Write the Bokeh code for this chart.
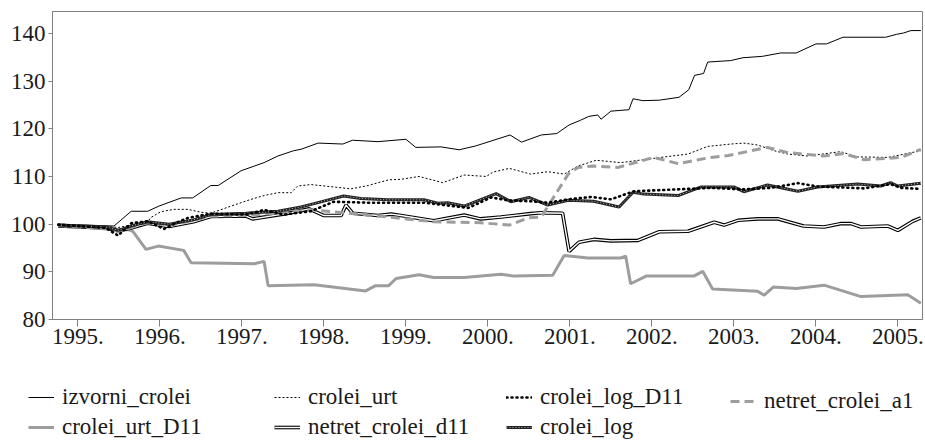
from bokeh.plotting import figure
from bokeh.models import Range1d, FixedTicker, Legend, LegendItem
from bokeh.embed import file_html
from bokeh.resources import INLINE

# ---------------- data (decimal years, index values) ----------------
izvorni_x = [1994.76, 1995.44, 1995.65, 1995.85, 1995.99, 1996.26, 1996.40, 1996.62, 1996.71, 1996.99,
             1997.27, 1997.44, 1997.63, 1997.72, 1997.93, 1998.23, 1998.35, 1998.66, 1999.00, 1999.12,
             1999.43, 1999.65, 1999.85, 2000.27, 2000.41, 2000.65, 2000.84, 2000.99, 2001.13, 2001.23,
             2001.34, 2001.38, 2001.50, 2001.72, 2001.77, 2001.89, 2002.09, 2002.33, 2002.45, 2002.52,
             2002.63, 2002.68, 2002.96, 2003.11, 2003.35, 2003.57, 2003.76, 2004.00, 2004.13, 2004.33,
             2004.85, 2004.98, 2005.07, 2005.16, 2005.28]
izvorni_y = [100.0, 99.6, 102.7, 102.7, 103.8, 105.5, 105.5, 108.1, 108.1, 111.2,
             112.9, 114.3, 115.4, 115.7, 117.0, 116.8, 117.6, 117.3, 117.8, 116.1,
             116.2, 115.6, 116.4, 118.7, 117.2, 118.7, 119.0, 120.8, 121.8, 122.6,
             122.9, 122.0, 123.7, 124.0, 126.3, 125.9, 126.0, 126.6, 128.2, 131.2,
             131.6, 134.0, 134.3, 134.9, 135.2, 135.9, 135.9, 137.8, 137.8, 139.2,
             139.2, 139.8, 140.1, 140.6, 140.6]

urt_x = [1994.76, 1995.34, 1995.49, 1995.65, 1995.85, 1995.89, 1996.01, 1996.17, 1996.34, 1996.50,
         1996.62, 1996.87, 1997.11, 1997.27, 1997.44, 1997.60, 1997.68, 1997.84, 1998.12, 1998.33,
         1998.54, 1998.79, 1998.94, 1999.16, 1999.45, 1999.71, 1999.98, 2000.06, 2000.26, 2000.52,
         2000.73, 2000.93, 2001.10, 2001.32, 2001.62, 2002.11, 2002.44, 2002.68, 2002.96, 2003.12,
         2003.29, 2003.49, 2003.66, 2003.90, 2004.30, 2004.51, 2004.88, 2005.28]
urt_y = [99.9, 99.5, 99.3, 99.8, 100.5, 101.4, 102.6, 103.1, 103.1, 102.5,
         102.3, 103.8, 105.2, 106.0, 106.6, 106.6, 108.0, 108.3, 107.8, 107.4,
         108.1, 109.3, 109.4, 110.0, 108.7, 110.3, 110.0, 110.9, 111.7, 110.5,
         111.0, 110.5, 112.2, 113.4, 112.9, 114.0, 114.7, 116.3, 116.8, 117.0,
         116.6, 115.4, 114.7, 114.3, 115.2, 114.1, 114.0, 115.4]

logd11_x = [1994.76, 1995.34, 1995.49, 1995.65, 1995.85, 1996.05, 1996.20, 1996.34, 1996.62, 1997.05,
            1997.27, 1997.51, 1997.84, 1998.12, 1998.54, 1999.22, 1999.76, 2000.04, 2000.24, 2000.52,
            2000.73, 2000.98, 2001.26, 2001.50, 2001.78, 2002.32, 2002.72, 2003.12, 2003.45, 2003.78,
            2004.02, 2004.59, 2004.91, 2005.04, 2005.28]
logd11_y = [99.9, 99.2, 97.6, 100.2, 100.6, 99.0, 100.3, 101.3, 102.2, 102.0,
            103.0, 102.0, 102.7, 104.7, 104.5, 104.5, 103.4, 105.6, 105.0, 104.8,
            104.5, 105.2, 105.7, 105.2, 106.9, 107.3, 107.6, 107.3, 107.6, 108.6,
            107.9, 107.5, 108.4, 107.6, 107.4]

a1_x = [1994.76, 1995.34, 1995.49, 1995.65, 1995.85, 1996.11, 1996.41, 1996.62, 1997.05, 1997.44,
        1997.84, 1998.12, 1998.24, 1998.66, 1999.34, 1999.91, 2000.26, 2000.49, 2000.65, 2000.80,
        2000.98, 2001.10, 2001.29, 2001.59, 2002.02, 2002.32, 2002.72, 2002.93, 2003.41, 2003.66,
        2004.10, 2004.34, 2004.59, 2005.04, 2005.28]
a1_y = [99.7, 99.0, 98.5, 99.3, 100.3, 99.7, 100.8, 101.7, 101.8, 102.3,
        103.0, 102.6, 102.4, 101.7, 100.5, 100.3, 99.8, 101.3, 101.5, 105.6,
        110.5, 111.9, 112.2, 111.9, 114.0, 112.7, 114.0, 114.4, 116.1, 115.0,
        114.3, 114.8, 113.5, 114.0, 115.7]

urtd11_x = [1994.76, 1995.34, 1995.49, 1995.61, 1995.67, 1995.83, 1995.98, 1996.29, 1996.38, 1997.15,
            1997.27, 1997.32, 1997.88, 1998.51, 1998.63, 1998.79, 1998.88, 1999.16, 1999.34, 1999.71,
            2000.16, 2000.32, 2000.79, 2000.93, 2001.22, 2001.62, 2001.68, 2001.74, 2001.93, 2002.51,
            2002.62, 2002.74, 2003.29, 2003.37, 2003.48, 2003.76, 2004.10, 2004.55, 2005.12, 2005.28]
urtd11_y = [99.8, 99.3, 98.7, 98.9, 98.5, 94.7, 95.4, 94.5, 91.9, 91.7,
            92.2, 87.1, 87.3, 86.0, 87.1, 87.1, 88.6, 89.4, 88.8, 88.8,
            89.5, 89.1, 89.3, 93.4, 92.9, 92.9, 93.3, 87.5, 89.1, 89.1,
            90.1, 86.4, 85.9, 85.1, 86.8, 86.5, 87.2, 84.8, 85.2, 83.4]

d11_x = [1994.76, 1995.34, 1995.49, 1995.65, 1995.85, 1996.11, 1996.41, 1996.62, 1997.05, 1997.13,
         1997.54, 1997.82, 1998.00, 1998.21, 1998.27, 1998.35, 1998.66, 1998.82, 1998.94, 1999.34,
         1999.71, 1999.91, 2000.16, 2000.52, 2000.65, 2000.91, 2000.99, 2001.11, 2001.29, 2001.50,
         2001.83, 2002.09, 2002.44, 2002.76, 2002.88, 2003.05, 2003.29, 2003.54, 2003.85, 2004.10,
         2004.30, 2004.43, 2004.55, 2004.88, 2005.00, 2005.18, 2005.28]
d11_y = [99.6, 99.2, 98.6, 99.2, 100.2, 99.5, 100.5, 101.6, 101.7, 101.1,
         102.2, 103.2, 101.8, 101.8, 104.0, 102.3, 101.8, 102.1, 101.8, 100.7,
         101.9, 101.1, 101.5, 102.2, 102.4, 102.3, 94.3, 96.2, 96.8, 96.5,
         96.6, 98.4, 98.5, 100.4, 99.8, 100.8, 101.1, 101.1, 99.6, 99.4,
         100.1, 100.1, 99.4, 99.6, 98.7, 100.6, 101.3]

log_x = [1994.76, 1995.34, 1995.49, 1995.65, 1995.85, 1996.11, 1996.41, 1996.62, 1997.05, 1997.44,
         1997.72, 1997.88, 1998.24, 1998.45, 1998.78, 1999.22, 1999.39, 1999.51, 1999.71, 2000.10,
         2000.28, 2000.50, 2000.73, 2000.98, 2001.29, 2001.60, 2001.77, 2001.90, 2002.32, 2002.60,
         2003.00, 2003.12, 2003.41, 2003.78, 2004.02, 2004.51, 2004.79, 2004.91, 2005.00, 2005.28]
log_y = [99.8, 99.4, 98.7, 99.6, 100.5, 100.0, 100.9, 102.0, 102.3, 102.7,
         103.6, 104.3, 105.9, 105.4, 105.1, 105.1, 104.4, 104.5, 103.8, 106.4,
         104.7, 105.6, 104.0, 105.0, 104.8, 103.6, 106.7, 106.3, 106.0, 107.8,
         107.8, 106.8, 108.2, 106.9, 107.8, 108.4, 108.0, 108.7, 108.0, 108.6]

series_names = ["izvorni_crolei", "crolei_urt", "crolei_log_D11", "netret_crolei_a1",
                "crolei_urt_D11", "netret_crolei_d11", "crolei_log"]
year_ticks = [1995, 1996, 1997, 1998, 1999, 2000, 2001, 2002, 2003, 2004, 2005]
year_labels = ["1995.", "1996.", "1997.", "1998.", "1999.", "2000.",
               "2001.", "2002.", "2003.", "2004.", "2005."]
y_ticks = [80, 90, 100, 110, 120, 130, 140]

FONT = "Liberation Serif"
GRAY = "#9d9d9d"
FRAME = "#808080"
TXT = "#1a1a1a"
NAN = float("nan")

# style of every series (used for plot lines and legend glyphs)
STYLES = {
    "izvorni_crolei": [dict(line_color="black", line_width=1)],
    "crolei_urt": [dict(line_color="black", line_width=1, line_dash="2 2")],
    "crolei_log_D11": [dict(line_color="black", line_width=2.6, line_dash="1 4", line_cap="round")],
    "netret_crolei_a1": [dict(line_color=GRAY, line_width=3, line_dash="9 5")],
    "crolei_urt_D11": [dict(line_color=GRAY, line_width=3)],
    "netret_crolei_d11": [dict(line_color="black", line_width=3.6),
                          dict(line_color="white", line_width=1.4)],
    "crolei_log": [dict(line_color="#222222", line_width=3),
                   dict(line_color="#bbbbbb", line_width=1, line_dash="1 2")],
}
DATA = {
    "izvorni_crolei": (izvorni_x, izvorni_y),
    "crolei_urt": (urt_x, urt_y),
    "crolei_log_D11": (logd11_x, logd11_y),
    "netret_crolei_a1": (a1_x, a1_y),
    "crolei_urt_D11": (urtd11_x, urtd11_y),
    "netret_crolei_d11": (d11_x, d11_y),
    "crolei_log": (log_x, log_y),
}
DRAW_ORDER = ["izvorni_crolei", "crolei_urt", "crolei_urt_D11", "netret_crolei_d11",
              "netret_crolei_a1", "crolei_log", "crolei_log_D11"]

# ---------------- main chart ----------------
p = figure(width=924, height=352, output_backend="svg", toolbar_location=None,
           x_range=Range1d(1994.69, 2005.30), y_range=Range1d(80, 144.6),
           min_border_left=52, min_border_right=2, min_border_top=11, min_border_bottom=33)
p.background_fill_color = "white"
p.border_fill_color = "white"
p.outline_line_color = FRAME
p.outline_line_width = 1
p.xgrid.visible = False
p.ygrid.visible = False

for ax in (p.xaxis[0], p.yaxis[0]):
    ax.axis_line_color = FRAME
    ax.major_tick_line_color = FRAME
    ax.minor_tick_line_color = None
    ax.major_tick_in = 0
    ax.major_label_text_font = FONT
    ax.major_label_text_font_size = "23px"
    ax.major_label_text_color = TXT

p.xaxis[0].ticker = FixedTicker(ticks=year_ticks)
p.xaxis[0].major_label_overrides = {t: l for t, l in zip(year_ticks, year_labels)}
p.xaxis[0].major_tick_out = 7
p.xaxis[0].major_label_standoff = 2
p.yaxis[0].ticker = FixedTicker(ticks=y_ticks)
p.yaxis[0].major_tick_out = 4
p.yaxis[0].major_label_standoff = 3

for name in DRAW_ORDER:
    xs, ys = DATA[name]
    for st in STYLES[name]:
        p.line(xs, ys, **st)

# ---------------- legend strip (separate root, no frame alignment) ----------------
lg_fig = figure(width=924, height=94, output_backend="svg", toolbar_location=None,
                x_range=Range1d(0, 1), y_range=Range1d(0, 1),
                x_axis_type=None, y_axis_type=None,
                min_border_left=0, min_border_right=0, min_border_top=0, min_border_bottom=0)
lg_fig.outline_line_color = None
lg_fig.xgrid.visible = False
lg_fig.ygrid.visible = False
lg_fig.background_fill_color = "white"
lg_fig.border_fill_color = "white"

items = {}
for name in series_names:
    rs = [lg_fig.line([NAN], [NAN], **st) for st in STYLES[name]]
    items[name] = LegendItem(label=name, renderers=rs)


def make_legend(names, x, y):
    lg = Legend(items=[items[n] for n in names], location=(x, y), orientation="vertical",
                background_fill_alpha=0, border_line_alpha=0, padding=0, margin=0,
                spacing=4, glyph_width=26, glyph_height=22, label_height=22,
                label_standoff=8, label_text_font=FONT, label_text_font_size="23px",
                label_text_color=TXT, label_text_baseline="middle")
    lg_fig.add_layout(lg, "center")


make_legend(["izvorni_crolei", "crolei_urt_D11"], 28, 6)
make_legend(["crolei_urt", "netret_crolei_d11"], 274, 6)
make_legend(["crolei_log_D11", "crolei_log"], 506, 6)
make_legend(["netret_crolei_a1"], 730, 32)

open("out.html", "w").write(file_html([p, lg_fig], INLINE))
